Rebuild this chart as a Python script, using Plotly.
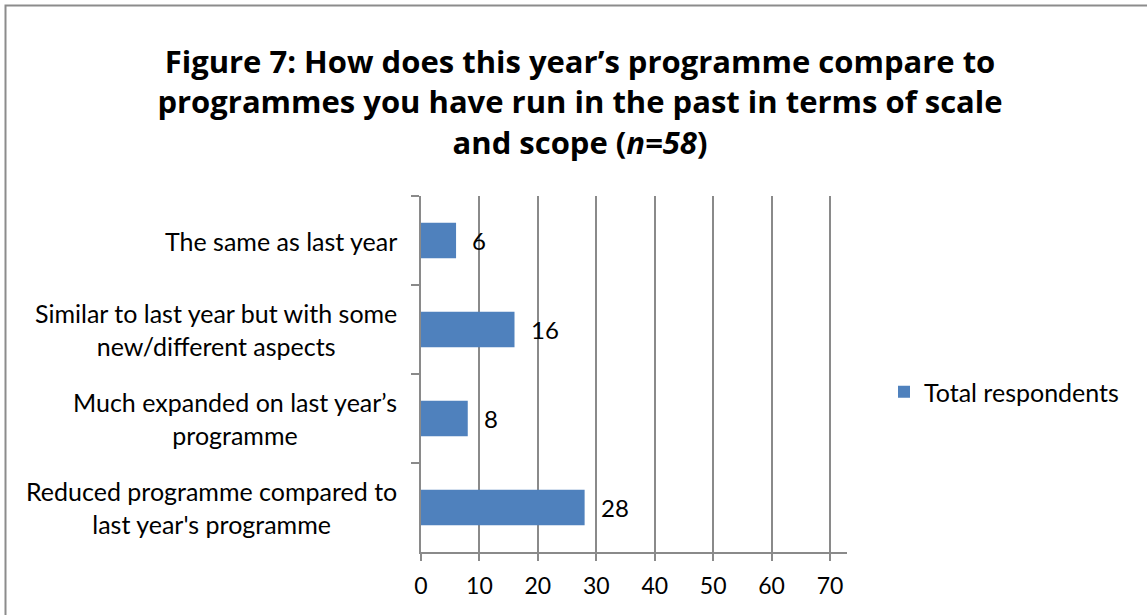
import plotly.graph_objects as go

# Survey responses (n=58), listed top to bottom as shown on the chart
categories = [
    "The same as last year",
    "Similar to last year but with some<br>new/different aspects",
    "Much expanded on last year\u2019s<br>programme",
    "Reduced programme compared to<br>last year's programme",
]
respondents = [6, 16, 8, 28]
series_name = "Total respondents"
x_ticks = [0, 10, 20, 30, 40, 50, 60, 70]

W, H = 1147, 615
ML, MR, MT, MB = 421, 300, 196, 63
PW, PH = W - ML - MR, H - MT - MB

FONT = "Lato"
GRID = "#8a8a8a"
BAR = "#4F81BD"

fig = go.Figure()
fig.add_trace(go.Bar(
    x=respondents,
    y=categories,
    orientation="h",
    name=series_name,
    marker=dict(color=BAR, line=dict(width=0)),
    width=0.4,
    showlegend=True,
))

# value labels beside each bar
for cat, val in zip(categories, respondents):
    fig.add_annotation(
        x=val, y=cat, xref="x", yref="y",
        text=str(val), showarrow=False,
        xanchor="left", xshift=14,
        font=dict(family=FONT, size=24, color="#000000"),
    )

# centred, wrapped category labels left of the axis
for cat in categories:
    fig.add_annotation(
        x=0, y=cat, xref="paper", yref="y",
        text=cat, showarrow=False,
        xanchor="right", xshift=-22, align="center",
        font=dict(family=FONT, size=25, color="#000000"),
    )

# outer chart frame
fig.add_shape(
    type="rect", xref="paper", yref="paper",
    x0=(5.5 - ML) / PW, x1=(W + 10 - ML) / PW,
    y0=(H - (H + 10) - MB) / PH, y1=(H - 5.5 - MB) / PH,
    line=dict(color="#8c8c8c", width=2), fillcolor="rgba(0,0,0,0)",
    layer="below",
)

fig.update_layout(
    width=W, height=H,
    margin=dict(l=ML, r=MR, t=MT, b=MB, pad=0),
    paper_bgcolor="white", plot_bgcolor="white",
    font=dict(family=FONT, color="#000000"),
    title=dict(
        text="<b>Figure 7: How does this year\u2019s programme compare to<br>"
             "programmes you have run in the past in terms of scale<br>"
             "and scope (<i>n=58</i>)</b>",
        xref="container", yref="container",
        x=580 / W, xanchor="center",
        y=1 - 73 / H, yanchor="top",
        font=dict(family="Open Sans", size=31, color="#000000"),
    ),
    xaxis=dict(
        range=[0, 72.9],
        tickvals=x_ticks,
        ticktext=[str(t) for t in x_ticks],
        showgrid=True, gridcolor=GRID, gridwidth=1.5,
        zeroline=False,
        showline=True, linecolor=GRID, linewidth=1.5,
        ticks="outside", ticklen=7, tickcolor=GRID, tickwidth=1.5,
        tickfont=dict(family=FONT, size=23, color="#000000"),
        ticklabelstandoff=6,
        fixedrange=True,
    ),
    yaxis=dict(
        type="category",
        categoryorder="array", categoryarray=categories,
        autorange="reversed",
        showgrid=False, zeroline=False,
        showline=True, linecolor=GRID, linewidth=1.5,
        ticks="outside", tickson="boundaries", ticklen=8,
        tickcolor=GRID, tickwidth=1.5,
        showticklabels=False,
        fixedrange=True,
    ),
    legend=dict(
        x=(884 - ML) / PW, xanchor="left",
        y=(H - 392 - MB) / PH, yanchor="middle",
        font=dict(family=FONT, size=25, color="#000000"),
        bgcolor="rgba(0,0,0,0)", borderwidth=0,
    ),
)

fig.write_html("out.html")
